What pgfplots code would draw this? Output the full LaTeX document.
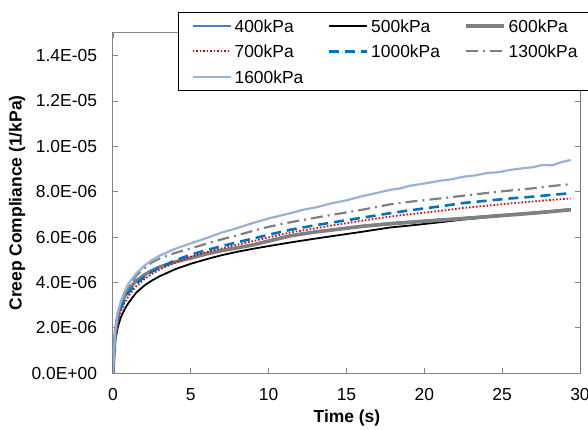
\documentclass[border=0pt]{standalone}
\usepackage{fontspec}
\setmainfont{Liberation Sans}
\usepackage{pgfplots}
\pgfplotsset{compat=1.18}
\definecolor{c400}{HTML}{4A7EBB}
\definecolor{c600}{HTML}{808080}
\definecolor{c700}{HTML}{E00000}
\definecolor{c1000}{HTML}{0070C0}
\definecolor{c1600}{HTML}{95B3D7}
\definecolor{axgray}{HTML}{868686}
\begin{document}
\fontsize{17.5}{21}\selectfont
\begin{tikzpicture}
\begin{axis}[
  scale only axis, width=467bp, height=340bp,
  at={(0,0)}, anchor=south west,
  xmin=0, xmax=30, ymin=0, ymax=1.5e-5,
  xtick={0,5,10,15,20,25,30},
  ytick={0,2e-6,4e-6,6e-6,8e-6,1e-5,1.2e-5,1.4e-5},
  yticklabels={0.0E+00,2.0E-06,4.0E-06,6.0E-06,8.0E-06,1.0E-05,1.2E-05,1.4E-05},
  scaled y ticks=false,
  /pgf/number format/assume math mode=true,
  tick label style={font=\fontsize{17.5}{21}\selectfont},
  xticklabel style={yshift=-9bp},
  yticklabel style={xshift=-10bp},
  axis line style={axgray, line width=1bp},
  major tick length=5bp,
  tick style={axgray, line width=0.8bp},
  xlabel={\bfseries Time (s)},
  ylabel={\bfseries Creep Compliance (1/kPa)},
  xlabel style={at={(axis description cs:0.501,-0.132)}, anchor=center, font=\fontsize{17.5}{21}\selectfont},
  ylabel style={at={(axis description cs:-0.2055,0.5)}, anchor=center, font=\fontsize{17.5}{21}\selectfont},
  legend columns=3,
  legend cell align=left,
  legend image code/.code={\draw[#1] (0bp,0bp) -- (38bp,0bp);},
  legend style={at={(axis description cs:0.1392,1.0618)}, anchor=north west,
    draw=black, line width=0.8bp, fill=white,
    inner xsep=13bp, inner ysep=4bp, row sep=6.5bp,
    font=\fontsize{17.5}{21}\selectfont,
    nodes={text width=85bp, inner xsep=3bp, inner ysep=3bp, text height=13bp, text depth=0bp},
    /tikz/every even column/.append style={column sep=5bp}},
]
\addplot[c400, line width=2bp] coordinates {
(0,0) (0.05,0.75e-6) (0.15,1.8e-6) (0.3,2.5e-6) (0.5,3.0e-6) (0.75,3.4e-6) (1,3.7e-6) (1.5,4.07e-6) (2,4.32e-6) (2.5,4.52e-6) (3,4.68e-6) (4,4.9e-6) (5,5.1e-6) (6,5.28e-6) (7,5.43e-6) (8,5.55e-6) (9,5.68e-6) (10,5.85e-6) (11.4,6.08e-6) (13,6.25e-6) (14,6.33e-6) (16,6.5e-6) (17.8,6.62e-6) (19,6.68e-6) (21,6.78e-6) (22.5,6.85e-6) (24,6.93e-6) (25.5,7.01e-6) (27,7.09e-6) (28.2,7.16e-6) (29.4,7.24e-6)};
\addlegendentry{400kPa}
\addplot[black, line width=1.8bp] coordinates {
(0,0) (0.05,0.6e-6) (0.15,1.45e-6) (0.3,2.0e-6) (0.5,2.45e-6) (0.75,2.82e-6) (1,3.1e-6) (1.5,3.55e-6) (2,3.85e-6) (2.5,4.08e-6) (3,4.27e-6) (4,4.58e-6) (5,4.82e-6) (6,5.02e-6) (7,5.2e-6) (8,5.35e-6) (9,5.48e-6) (10,5.6e-6) (11.4,5.76e-6) (13,5.93e-6) (14,6.03e-6) (16,6.23e-6) (17.8,6.42e-6) (19,6.5e-6) (21,6.65e-6) (22.5,6.77e-6) (24,6.87e-6) (25.5,6.97e-6) (27,7.06e-6) (28.2,7.13e-6) (29.4,7.2e-6)};
\addlegendentry{500kPa}
\addplot[c600, line width=3.5bp] coordinates {
(0,0) (0.05,0.75e-6) (0.15,1.8e-6) (0.3,2.5e-6) (0.5,3.0e-6) (0.75,3.4e-6) (1,3.7e-6) (1.5,4.07e-6) (2,4.32e-6) (2.5,4.52e-6) (3,4.68e-6) (4,4.9e-6) (5,5.07e-6) (6,5.25e-6) (7,5.4e-6) (8,5.52e-6) (9,5.65e-6) (10,5.82e-6) (11.4,6.05e-6) (13,6.22e-6) (14,6.3e-6) (16,6.47e-6) (17.8,6.58e-6) (19,6.64e-6) (21,6.74e-6) (22.5,6.81e-6) (24,6.89e-6) (25.5,6.97e-6) (27,7.05e-6) (28.2,7.12e-6) (29.4,7.2e-6)};
\addlegendentry{600kPa}
\addplot[c700, line width=1.8bp, dash pattern=on 1.5bp off 2bp] coordinates {
(0,0) (0.05,0.65e-6) (0.15,1.6e-6) (0.3,2.2e-6) (0.5,2.7e-6) (0.75,3.1e-6) (1,3.4e-6) (1.5,3.83e-6) (2,4.13e-6) (2.5,4.37e-6) (3,4.56e-6) (4,4.88e-6) (5,5.13e-6) (6,5.33e-6) (7,5.5e-6) (8,5.66e-6) (9,5.82e-6) (10,5.98e-6) (11.4,6.2e-6) (13,6.38e-6) (14,6.5e-6) (16,6.72e-6) (17.8,6.9e-6) (19,7.0e-6) (21,7.15e-6) (22.5,7.28e-6) (24,7.38e-6) (25.5,7.48e-6) (27,7.57e-6) (28.2,7.64e-6) (29.4,7.7e-6)};
\addlegendentry{700kPa}
\addplot[c1000, line width=2.6bp, dash pattern=on 10bp off 6bp] coordinates {
(0,0) (0.05,0.7e-6) (0.15,1.7e-6) (0.3,2.35e-6) (0.5,2.85e-6) (0.75,3.25e-6) (1,3.55e-6) (1.5,3.95e-6) (2,4.23e-6) (2.5,4.47e-6) (3,4.65e-6) (4,4.97e-6) (5,5.22e-6) (6,5.42e-6) (7,5.6e-6) (8,5.77e-6) (9,5.93e-6) (10,6.1e-6) (11.4,6.32e-6) (13,6.52e-6) (14,6.63e-6) (16,6.85e-6) (17.8,7.05e-6) (19,7.17e-6) (21,7.35e-6) (22.5,7.5e-6) (24,7.6e-6) (25.5,7.7e-6) (27,7.78e-6) (28.2,7.86e-6) (29.4,7.93e-6)};
\addlegendentry{1000kPa}
\addplot[c600, line width=2.2bp, dash pattern=on 12bp off 5bp on 2bp off 5bp] coordinates {
(0,0) (0.05,0.75e-6) (0.15,1.8e-6) (0.3,2.55e-6) (0.5,3.05e-6) (0.75,3.5e-6) (1,3.82e-6) (1.5,4.3e-6) (2,4.62e-6) (2.5,4.88e-6) (3,5.05e-6) (4,5.3e-6) (5,5.5e-6) (6,5.7e-6) (7,5.9e-6) (8,6.08e-6) (9,6.27e-6) (10,6.45e-6) (11.4,6.65e-6) (13,6.85e-6) (14,6.97e-6) (16,7.2e-6) (17.8,7.44e-6) (19,7.55e-6) (21,7.7e-6) (22.5,7.82e-6) (24,7.94e-6) (25.5,8.05e-6) (27,8.15e-6) (28.2,8.25e-6) (29.4,8.33e-6)};
\addlegendentry{1300kPa}
\addplot[c1600, line width=2.2bp] coordinates {
(0,0) (0.05,0.8e-6) (0.15,1.9e-6) (0.3,2.65e-6) (0.5,3.15e-6) (0.75,3.6e-6) (1,3.95e-6) (1.5,4.4e-6) (2,4.72e-6) (2.5,4.98e-6) (3,5.18e-6) (4,5.48e-6) (5,5.72e-6) (6,5.95e-6) (7,6.2e-6) (8,6.4e-6) (9,6.62e-6) (10,6.82e-6) (11.4,7.05e-6) (12.2,7.2e-6) (13,7.3e-6) (14,7.48e-6) (15,7.62e-6) (16,7.8e-6) (17,7.95e-6) (17.8,8.08e-6) (18.5,8.15e-6) (19,8.25e-6) (20,8.36e-6) (21,8.48e-6) (21.8,8.55e-6) (22.5,8.66e-6) (23.3,8.72e-6) (24,8.82e-6) (24.8,8.86e-6) (25.5,8.96e-6) (26.3,9.03e-6) (27,9.08e-6) (27.6,9.18e-6) (28.2,9.16e-6) (28.8,9.3e-6) (29.4,9.4e-6)};
\addlegendentry{1600kPa}
\draw[black, line width=1bp] (rel axis cs:1,0) -- (rel axis cs:1,1);
\end{axis}
\pgfresetboundingbox
\useasboundingbox (-113bp,-57bp) rectangle (475bp,373bp);
\end{tikzpicture}
\end{document}
